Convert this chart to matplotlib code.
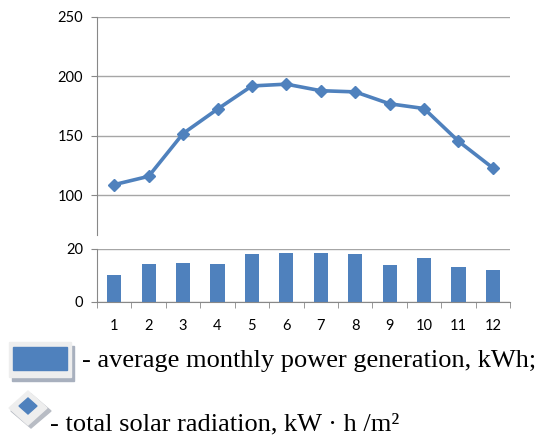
import numpy as np
import matplotlib.pyplot as plt
from matplotlib.patches import Rectangle, Polygon

months = np.arange(1, 13)
month_labels = [str(m) for m in months]
# total solar radiation, kW*h/m2
radiation = [109, 116, 152, 172.5, 192, 193.5, 188, 187, 177, 173, 145.5, 123]
# average monthly power generation, kWh
generation = [10.0, 14.3, 14.7, 14.3, 18.0, 18.5, 18.5, 18.0, 13.8, 16.6, 13.3, 11.9]

blue = '#4F81BD'
grid_c = '#A6A6A6'
tick_font = 'Lato'
tick_size = 10.5

fig = plt.figure(figsize=(5.45, 4.41), dpi=100)

# upper part: solar radiation line
ax1 = fig.add_axes([0.178, 0.467, 0.758, 0.4945])
x = np.arange(len(months))
ax1.plot(x, radiation, color=blue, lw=2.6, marker='D', ms=6.5, mfc=blue, mec=blue)
ax1.set_xlim(-0.5, 11.5)
ax1.set_ylim(66.6, 250)
ax1.set_yticks([100, 150, 200, 250])
ax1.yaxis.grid(True, color=grid_c, lw=1)
ax1.set_axisbelow(True)
for s in ['top', 'right', 'bottom']:
    ax1.spines[s].set_visible(False)
ax1.spines['left'].set_color('#888888')
ax1.set_xticks([])
ax1.tick_params(axis='y', length=4, color='#888888', pad=6, labelsize=tick_size)
for t in ax1.get_yticklabels():
    t.set_fontfamily(tick_font)

# lower part: generation bars
ax2 = fig.add_axes([0.178, 0.3152, 0.758, 0.1202])
ax2.bar(x, generation, width=0.41, color=blue)
ax2.set_xlim(-0.5, 11.5)
ax2.set_ylim(0, 20)
ax2.set_yticks([0, 20])
ax2.yaxis.grid(True, color=grid_c, lw=1)
ax2.set_axisbelow(True)
for s in ['top', 'right']:
    ax2.spines[s].set_visible(False)
ax2.spines['left'].set_color('#888888')
ax2.spines['bottom'].set_color('#888888')
ax2.set_xticks(x)
ax2.set_xticklabels(month_labels)
ax2.set_xticks(np.arange(-0.5, 12, 1), minor=True)
ax2.tick_params(axis='x', which='major', length=0, pad=12, labelsize=tick_size)
ax2.tick_params(axis='x', which='minor', length=4, color='#888888')
ax2.tick_params(axis='y', length=4, color='#888888', pad=6, labelsize=tick_size)
for t in ax2.get_xticklabels() + ax2.get_yticklabels():
    t.set_fontfamily(tick_font)

# legend drawn underneath in pixel coordinates
lg = fig.add_axes([0, 0, 1, 1], facecolor='none')
lg.set_xlim(0, 545)
lg.set_ylim(441, 0)
lg.axis('off')

lg.add_patch(Rectangle((12, 346), 62, 35, color='#A8B0BE', zorder=1))
lg.add_patch(Rectangle((9, 342), 62, 35, color='#EEEEEE', zorder=2))
lg.add_patch(Rectangle((13, 347), 54, 23, color=blue, zorder=3))
lg.text(82, 361, '- average monthly power generation, kWh;', family='Liberation Serif',
        fontsize=19, va='center', ha='left')

lg.add_patch(Polygon([(31, 394), (51, 411), (31, 428), (11, 411)], color='#B8BCC4', zorder=1))
lg.add_patch(Polygon([(28, 391), (47, 408), (28, 425), (9, 408)], color='#EEEEEE', zorder=2))
lg.add_patch(Polygon([(28, 398), (37, 406), (28, 414), (19, 406)], color=blue, zorder=3))
lg.text(50, 424, '- total solar radiation, kW · h /m²', family='Liberation Serif',
        fontsize=19, va='center', ha='left')

fig.savefig('out.png', dpi=100)
